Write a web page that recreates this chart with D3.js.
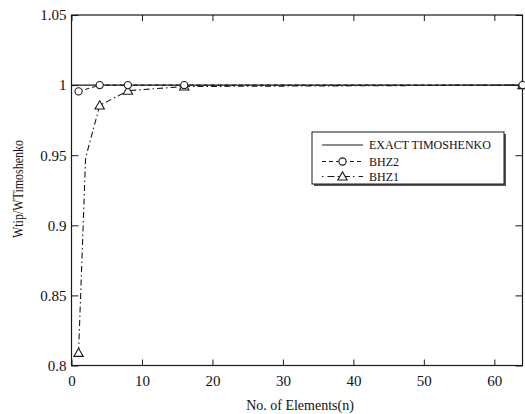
<!DOCTYPE html>
<html>
<head>
<meta charset="utf-8">
<script src="https://cdn.jsdelivr.net/npm/d3@7"></script>
<style>
  html, body { margin: 0; padding: 0; background: #fff; }
  svg { display: block; }
  text { font-family: "Liberation Serif", "Times New Roman", serif; fill: #111; }
</style>
</head>
<body>
<svg id="chart" width="525" height="414"></svg>
<script>
// Number of elements used in each mesh
const elements = [1, 2, 4, 8, 16, 64];
// Exact Timoshenko reference (normalised)
const exactN = [0, 64];
const exactVals = [1, 1];
// BHZ2 element results (tip deflection ratio)
const bhz2N = [1, 4, 8, 16, 64];
const bhz2Vals = [0.9955, 1.0, 1.0, 1.0, 1.0];
// BHZ1 element results
const bhz1N = elements;
const bhz1Vals = [0.809, 0.948, 0.9855, 0.996, 0.999, 1.0];
// Meshes marked with a symbol
const bhz1Markers = [1, 4, 8, 16, 64];
// Axis ticks
const xTicks = [0, 10, 20, 30, 40, 50, 60];
const yTicks = [0.8, 0.85, 0.9, 0.95, 1, 1.05];
const yTickLabels = ["0.8", "0.85", "0.9", "0.95", "1", "1.05"];
const legendLabels = ["EXACT TIMOSHENKO", "BHZ2", "BHZ1"];

const serif = '"Liberation Serif", "Times New Roman", serif';
const svg = d3.select("#chart");
const plotL = 71.5, plotR = 522.5, plotT = 15, plotB = 365.5;

const x = d3.scaleLinear().domain([0, 64]).range([plotL, plotR]);
const y = d3.scaleLinear().domain([0.8, 1.05]).range([plotB, plotT]);

const ink = "#1a1a1a";

// Frame
svg.append("rect")
  .attr("x", plotL).attr("y", plotT)
  .attr("width", plotR - plotL).attr("height", plotB - plotT)
  .attr("fill", "none").attr("stroke", ink).attr("stroke-width", 1.2);

// Axes with inward ticks
const fmtY = d => yTickLabels[yTicks.indexOf(d)];
const gx = svg.append("g").attr("transform", `translate(0,${plotB})`)
  .call(d3.axisBottom(x).tickValues(xTicks).tickSizeInner(-6).tickSizeOuter(0).tickPadding(10).tickFormat(d3.format("d")));
const gxTop = svg.append("g").attr("transform", `translate(0,${plotT})`)
  .call(d3.axisTop(x).tickValues(xTicks).tickSizeInner(-6).tickSizeOuter(0).tickFormat(""));
const gy = svg.append("g").attr("transform", `translate(${plotL},0)`)
  .call(d3.axisLeft(y).tickValues(yTicks).tickSizeInner(-7).tickSizeOuter(0).tickPadding(5).tickFormat(fmtY));
const gyRight = svg.append("g").attr("transform", `translate(${plotR},0)`)
  .call(d3.axisRight(y).tickValues(yTicks).tickSizeInner(-7).tickSizeOuter(0).tickFormat(""));

[gx, gxTop, gy, gyRight].forEach(g => {
  g.attr("font-family", null);
  g.select(".domain").remove();
  g.selectAll(".tick line").attr("stroke", ink).attr("stroke-width", 1);
  g.selectAll(".tick text").attr("font-size", 15).attr("fill", "#111")
    .style("font-family", serif);
});

// Axis titles
svg.append("text")
  .attr("x", 300).attr("y", 410)
  .attr("text-anchor", "middle").attr("font-size", 14)
  .text("No. of Elements(n)");

svg.append("text")
  .attr("transform", "translate(23,189) rotate(-90)")
  .attr("text-anchor", "middle").attr("font-size", 14)
  .attr("textLength", 98).attr("lengthAdjust", "spacingAndGlyphs")
  .text("Wtip/WTimoshenko");

const line = d3.line().x(d => x(d[0])).y(d => y(d[1]));

// Exact solution
svg.append("path")
  .datum(d3.zip(exactN, exactVals))
  .attr("d", line).attr("fill", "none")
  .attr("stroke", ink).attr("stroke-width", 1.2);

// BHZ2
svg.append("path")
  .datum(d3.zip(bhz2N, bhz2Vals))
  .attr("d", line).attr("fill", "none")
  .attr("stroke", ink).attr("stroke-width", 1.1)
  .attr("stroke-dasharray", "4,3");

// BHZ1
svg.append("path")
  .datum(d3.zip(bhz1N, bhz1Vals))
  .attr("d", line).attr("fill", "none")
  .attr("stroke", ink).attr("stroke-width", 1.1)
  .attr("stroke-dasharray", "6,3,1.5,3");

const circleMark = (sel, cx, cy) => sel.append("circle")
  .attr("cx", cx).attr("cy", cy).attr("r", 3.6)
  .attr("fill", "#fff").attr("stroke", ink).attr("stroke-width", 1.1);
const triPath = d3.symbol().type(d3.symbolTriangle).size(38);
const triMark = (sel, cx, cy) => sel.append("path")
  .attr("d", triPath()).attr("transform", `translate(${cx},${cy + 0.8})`)
  .attr("fill", "#fff").attr("stroke", ink).attr("stroke-width", 1.1);

const marks = svg.append("g");
bhz1N.forEach((n, i) => {
  if (bhz1Markers.includes(n)) triMark(marks, x(n), y(bhz1Vals[i]));
});
bhz2N.forEach((n, i) => circleMark(marks, x(n), y(bhz2Vals[i])));

// Legend
const lg = svg.append("g");
lg.append("rect").attr("x", 314).attr("y", 134).attr("width", 192).attr("height", 52)
  .attr("fill", "#555");
lg.append("rect").attr("x", 312).attr("y", 132).attr("width", 192).attr("height", 52)
  .attr("fill", "#fff").attr("stroke", ink).attr("stroke-width", 1);

const rowsY = [145, 161.5, 176.5];
const lx0 = 322, lx1 = 363, lxm = 342.5;
lg.append("line").attr("x1", lx0).attr("x2", lx1).attr("y1", rowsY[0]).attr("y2", rowsY[0])
  .attr("stroke", ink).attr("stroke-width", 1.1);
lg.append("line").attr("x1", lx0).attr("x2", lx1).attr("y1", rowsY[1]).attr("y2", rowsY[1])
  .attr("stroke", ink).attr("stroke-width", 1.1).attr("stroke-dasharray", "4,3");
circleMark(lg, lxm, rowsY[1]);
lg.append("line").attr("x1", lx0).attr("x2", lx1).attr("y1", rowsY[2]).attr("y2", rowsY[2])
  .attr("stroke", ink).attr("stroke-width", 1.1).attr("stroke-dasharray", "1.5,4,7,3");
triMark(lg, lxm, rowsY[2]);

legendLabels.forEach((t, i) => {
  lg.append("text").attr("x", 369).attr("y", rowsY[i]).attr("dy", "0.35em")
    .attr("font-size", 12).text(t);
});
</script>
</body>
</html>
